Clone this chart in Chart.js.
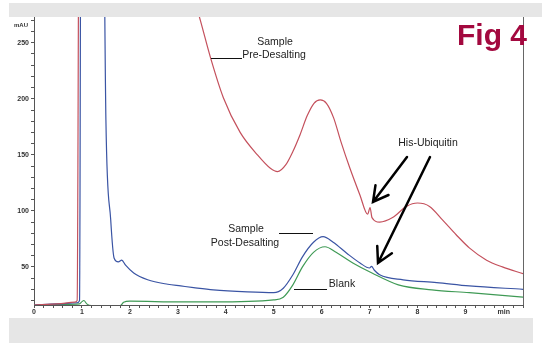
<!DOCTYPE html>
<html>
<head>
<meta charset="utf-8">
<script src="https://cdn.jsdelivr.net/npm/chart.js@4.4.0/dist/chart.umd.min.js"></script>
<style>
  html, body { margin: 0; padding: 0; background: #fff; }
  body { width: 542px; height: 343px; position: relative; overflow: hidden; }
  .band { position: absolute; background: #e6e6e6; }
  #wrap { position: absolute; left: 0; top: 0; width: 542px; height: 318px; }
</style>
</head>
<body>
<div class="band" style="left:9px;top:3px;width:533px;height:14px"></div>
<div class="band" style="left:9px;top:318px;width:524px;height:25px"></div>
<div id="wrap"><canvas id="myChart"></canvas></div>
<script>
  // retention time (min) / absorbance (mAU)
  const preTime  = [0, 0.5, 0.85, 0.9, 0.95, 3.2, 3.47, 3.68, 3.95, 4.3, 4.66, 4.93, 5.08, 5.25, 5.4, 5.55, 5.7, 5.84, 5.97, 6.1, 6.25, 6.4, 6.59, 6.8, 6.96, 7.01, 7.05, 7.21, 7.48, 7.77, 8.0, 8.25, 8.52, 8.81, 9.08, 9.44, 9.77, 10.2];
  const preAbs   = [16, 17, 18.5, 20, 500, 310, 270, 237, 201, 170, 150, 138, 135, 141, 153, 168, 185, 196, 199, 196, 183, 162, 138, 114, 97, 103, 94, 90, 94, 104, 107, 104, 92, 78.5, 67, 56, 50, 44];

  const postTime = [0, 0.5, 0.9, 0.95, 0.99, 1.4, 1.5, 1.6, 1.67, 1.76, 1.83, 1.91, 2.08, 2.37, 2.79, 3.06, 3.33, 3.74, 4.45, 5.0, 5.2, 5.4, 5.6, 5.83, 6.03, 6.24, 6.53, 6.8, 7.0, 7.04, 7.1, 7.21, 7.7, 8.4, 9.08, 10.2];
  const postAbs  = [16, 17, 18, 20, 600, 600, 181, 92, 58, 54.5, 56, 51.5, 44.5, 38.5, 34.5, 33, 31.5, 29.5, 27.7, 27, 31, 43, 59, 72, 77, 72, 62, 53.5, 49, 50.5, 47, 43, 38.5, 36, 33, 30];

  const blankTime = [0, 0.5, 0.95, 1.0, 1.04, 1.1, 1.2, 1.8, 1.87, 2.0, 3.06, 3.74, 5.0, 5.2, 5.4, 5.6, 5.83, 6.07, 6.3, 6.65, 7.05, 7.6, 8.3, 9.08, 10.2];
  const blankAbs  = [16, 16.5, 17, 19, 20, 17, 15.5, 15.5, 18.5, 19.5, 18.7, 18.7, 20.5, 23, 34, 50, 63, 68, 63, 53.5, 44.5, 34, 29.5, 27, 23];

  const yTicks = [20, 30, 40, 50, 60, 70, 80, 90, 100, 110, 120, 130, 140, 150, 160, 170, 180, 190, 200, 210, 220, 230, 240, 250, 260, 270];
  const yLabels = [50, 100, 150, 200, 250];
  const xLabels = [0, 1, 2, 3, 4, 5, 6, 7, 8, 9];

  function pts(t, v) { return t.map((x, i) => ({ x: x, y: v[i] })); }

  function arrow(ctx, x1, y1, x2, y2) {
    const ang = Math.atan2(y2 - y1, x2 - x1), L = 17, s = 0.5;
    ctx.beginPath();
    ctx.moveTo(x1, y1); ctx.lineTo(x2, y2);
    ctx.moveTo(x2 - L * Math.cos(ang - s), y2 - L * Math.sin(ang - s));
    ctx.lineTo(x2, y2);
    ctx.lineTo(x2 - L * Math.cos(ang + s), y2 - L * Math.sin(ang + s));
    ctx.stroke();
  }

  // text labels, leader lines, arrows, frame
  const notes = {
    id: 'notes',
    afterDraw(chart) {
      const ctx = chart.ctx, a = chart.chartArea;
      ctx.save();
      ctx.strokeStyle = '#666'; ctx.lineWidth = 1;
      ctx.beginPath(); ctx.moveTo(a.right + 0.5, a.top); ctx.lineTo(a.right + 0.5, a.bottom); ctx.stroke();

      ctx.fillStyle = '#333';
      ctx.font = 'bold 6px "Liberation Sans", Arial';
      ctx.textAlign = 'center';
      ctx.fillText('mAU', 21, 27);

      ctx.fillStyle = '#a3093f';
      ctx.font = 'bold 30px "Liberation Sans", Arial';
      ctx.textAlign = 'left';
      ctx.fillText('Fig 4', 457, 45);

      ctx.fillStyle = '#222';
      ctx.font = '10.5px "Liberation Sans", Arial';
      ctx.textAlign = 'center';
      ctx.fillText('Sample', 275, 45);
      ctx.fillText('Pre-Desalting', 274, 58);
      ctx.fillText('Sample', 246, 232);
      ctx.fillText('Post-Desalting', 245, 246);
      ctx.fillText('Blank', 342, 287);
      ctx.fillText('His-Ubiquitin', 428, 146);

      ctx.strokeStyle = '#111'; ctx.lineWidth = 1;
      ctx.beginPath();
      ctx.moveTo(211, 58.5); ctx.lineTo(242, 58.5);
      ctx.moveTo(279, 233.5); ctx.lineTo(313, 233.5);
      ctx.moveTo(294, 289.5); ctx.lineTo(327, 289.5);
      ctx.stroke();

      ctx.strokeStyle = '#000'; ctx.lineWidth = 2.5; ctx.lineCap = 'round'; ctx.lineJoin = 'miter';
      arrow(ctx, 407, 157, 373, 202);
      arrow(ctx, 430, 157, 378, 263);
      ctx.restore();
    }
  };

  const data = {
    datasets: [
      { label: 'Sample Pre-Desalting', data: pts(preTime, preAbs), borderColor: '#c4505c' },
      { label: 'Sample Post-Desalting', data: pts(postTime, postAbs), borderColor: '#3a54a4' },
      { label: 'Blank', data: pts(blankTime, blankAbs), borderColor: '#3f9a55' }
    ]
  };

  const config = {
    type: 'line',
    data: data,
    options: {
      responsive: true,
      maintainAspectRatio: false,
      animation: false,
      layout: { padding: { top: 17, right: 19, left: 0, bottom: 0 } },
      elements: {
        point: { radius: 0 },
        line: { borderWidth: 1.2, cubicInterpolationMode: 'monotone' }
      },
      plugins: { legend: { display: false }, tooltip: { enabled: false } },
      scales: {
        x: {
          type: 'linear', min: 0, max: 10.2,
          afterBuildTicks: s => { s.ticks = []; for (let i = 0; i <= 51; i++) s.ticks.push({ value: i / 5 }); },
          afterFit: s => { s.height = 13; },
          ticks: {
            autoSkip: false, maxRotation: 0, padding: 0, color: '#333',
            font: { size: 7, family: '"Liberation Sans", Arial', weight: 'bold' },
            callback: v => {
              const r = Math.round(v);
              if (Math.abs(v - r) < 1e-6 && xLabels.includes(r)) return String(r);
              if (Math.abs(v - 9.8) < 1e-6) return 'min';
              return '';
            }
          },
          grid: { drawOnChartArea: false, tickLength: 3, color: '#555' },
          border: { color: '#555', width: 1 }
        },
        y: {
          min: 16, max: 273,
          afterBuildTicks: s => { s.ticks = yTicks.map(v => ({ value: v })); },
          afterFit: s => { s.width = 34; },
          ticks: {
            padding: 2, color: '#333',
            font: { size: 7, family: '"Liberation Sans", Arial', weight: 'bold' },
            callback: v => yLabels.includes(v) ? String(v) : ''
          },
          grid: { drawOnChartArea: false, tickLength: 3, color: '#555' },
          border: { color: '#555', width: 1 }
        }
      }
    },
    plugins: [notes]
  };

  const myChart = new Chart(document.getElementById('myChart'), config);
</script>
</body>
</html>
